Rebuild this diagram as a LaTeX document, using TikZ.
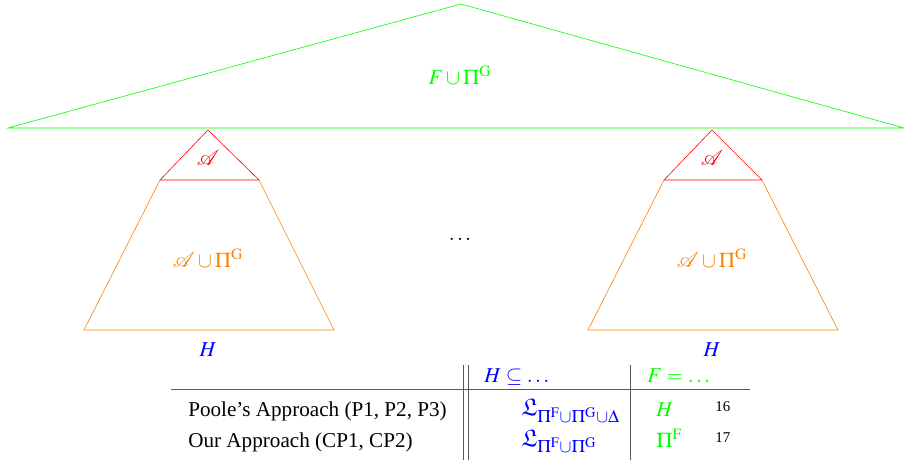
\documentclass[tikz,border=0pt]{standalone}
\usepackage{mathptmx}
\usepackage[no-math]{fontspec}
\setmainfont{Liberation Serif}
\usepackage{amssymb}
\usepackage{mathrsfs}
\usepackage{tikz}
\usetikzlibrary{positioning}
\definecolor{lgreen}{RGB}{0,255,0}
\definecolor{lorange}{RGB}{255,128,0}
\definecolor{rulegray}{RGB}{90,90,90}
\tikzset{
  every node/.style={font=\fontsize{14.1}{17}\selectfont},
  lbl/.style={inner sep=1pt},
  cell/.style={inner sep=0pt, anchor=base west},
  bigcell/.style={cell, font=\fontsize{16}{19}\selectfont},
  fnmark/.style={inner sep=0pt, anchor=base west, font=\fontsize{10}{12}\selectfont},
  sep/.style={rulegray, line width=0.6pt}
}
\begin{document}
\begin{tikzpicture}[x=0.6667pt,y=0.6667pt]
	\useasboundingbox (0,0) rectangle (904,465);
	% big triangle
	\draw[lgreen] (8,337) to (461,461) to (904,337) to cycle;
	\node[lbl,text=lgreen] (top) at (460,390) {$F\cup\Pi^{\mathrm{G}}$};
	% left tree
	\draw[red] (208,335) to (160,285) to (259,285) to cycle;
	\draw[lorange] (160,285) to (84,135) to (334,135) to (259,285);
	\node[lbl,text=red] (al) at (208,307) {$\mathscr{A}$};
	\node[lbl,text=lorange] (bl) at (208,207) {$\mathscr{A}\cup\Pi^{\mathrm{G}}$};
	\node[lbl,text=blue] (hl) at (208,115) {$H$};
	% right tree
	\draw[red] (712,335) to (664,285) to (762,285) to cycle;
	\draw[lorange] (664,285) to (588,135) to (838,135) to (762,285);
	\node[lbl,text=red] (ar) at (712,307) {$\mathscr{A}$};
	\node[lbl,text=lorange] (br) at (712,207) {$\mathscr{A}\cup\Pi^{\mathrm{G}}$};
	\node[lbl,text=blue] (hr) at (712,115) {$H$};
	\node[lbl] (dots) at (460,226) {$\ldots$};
	% table
	\draw[sep] (171,76) to (750,76);
	\draw[sep] (463,5) to (463,100);
	\draw[sep] (468,5) to (468,100);
	\draw[sep] (630,5) to (630,100);
	\node[cell,text=blue] (hsub) at (484,82) {$H\subseteq\ldots$};
	\node[cell,text=lgreen] (feq) at (647,82) {$F=\ldots$};
	\node[cell] (poole) at (188,48) {Poole's Approach (P1, P2, P3)};
	\node[cell] (ours) at (188,18) {Our Approach (CP1, CP2)};
	\node[bigcell,text=blue] (tpoole) at (521,49) {$\mathfrak{L}_{\Pi^{\mathrm{F}}\cup\Pi^{\mathrm{G}}\cup\Delta}$};
	\node[bigcell,text=blue] (tours) at (521,19) {$\mathfrak{L}_{\Pi^{\mathrm{F}}\cup\Pi^{\mathrm{G}}}$};
	\node[cell,text=lgreen] (fpoole) at (656,48) {$H$};
	\node[cell,text=lgreen] (fours) at (656,18) {$\Pi^{\mathrm{F}}$};
	\node[fnmark] (n16) at (715,53) {16};
	\node[fnmark] (n17) at (715,23) {17};
\end{tikzpicture}
\end{document}
